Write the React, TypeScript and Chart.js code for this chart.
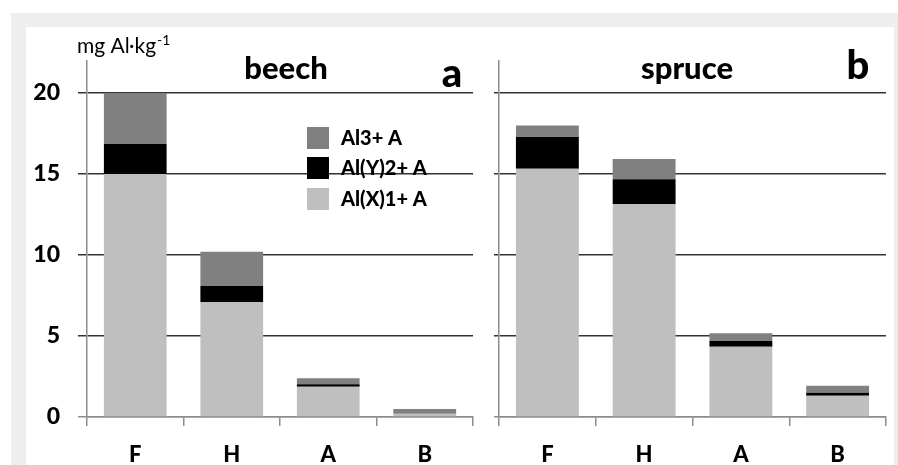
import React, { useEffect, useRef } from 'react';
import { Chart, registerables } from 'chart.js';
Chart.register(...registerables);

const categories = ['F', 'H', 'A', 'B'];
const seriesLabels = ['Al(X)1+ A', 'Al(Y)2+ A', 'Al3+ A'];
const seriesColors = ['#bfbfbf', '#000000', '#808080'];

const beechX = [15.0, 7.08, 1.87, 0.22];
const beechY = [1.85, 1.0, 0.15, 0.02];
const beechAl3 = [3.15, 2.12, 0.37, 0.25];

const spruceX = [15.33, 13.15, 4.34, 1.31];
const spruceY = [1.95, 1.52, 0.35, 0.19];
const spruceAl3 = [0.72, 1.26, 0.48, 0.43];

const yTickValues = [0, 5, 10, 15, 20];
const yMax = 22;

const FONT = 'Lato, "Open Sans", sans-serif';
const BOLD = 900;

type TextItem = { text: string; x: number; y: number; size: number; bold?: boolean; align?: CanvasTextAlign };

const overlayPlugin = {
  id: 'overlay',
  afterDraw(chart: any, _args: any, opts: any) {
    const ctx = chart.ctx as CanvasRenderingContext2D;
    ctx.save();
    ctx.fillStyle = '#000';
    ctx.textBaseline = 'alphabetic';
    (opts.texts || []).forEach((t: TextItem) => {
      ctx.font = `${t.bold ? BOLD + ' ' : ''}${t.size}px ${FONT}`;
      ctx.textAlign = t.align || 'left';
      ctx.fillText(t.text, t.x, t.y);
    });
    if (opts.unit) {
      const u = opts.unit;
      ctx.textAlign = 'left';
      ctx.font = `${u.size}px ${FONT}`;
      ctx.fillText(u.text, u.x, u.y);
      const w = ctx.measureText(u.text).width;
      ctx.font = `${u.supSize}px ${FONT}`;
      ctx.fillText(u.sup, u.x + w + 1, u.y - u.supRaise);
    }
    if (opts.legend) {
      const L = opts.legend;
      const ds = chart.data.datasets.slice().reverse();
      ds.forEach((d: any, i: number) => {
        const top = L.tops[i];
        ctx.fillStyle = d.backgroundColor;
        ctx.fillRect(L.x, top, L.box, L.box);
        ctx.fillStyle = '#000';
        ctx.font = `${BOLD} ${L.size}px ${FONT}`;
        ctx.textAlign = 'left';
        ctx.textBaseline = 'middle';
        ctx.fillText(d.label, L.textX, top + L.box / 2 + 1);
      });
    }
    ctx.restore();
  },
};

function makeConfig(series: number[][], o: any): any {
  return {
    type: 'bar',
    data: {
      labels: categories,
      datasets: series.map((vals, i) => ({
        label: seriesLabels[i],
        data: vals,
        backgroundColor: seriesColors[i],
        borderWidth: 0,
        barPercentage: 0.65,
        categoryPercentage: 1,
      })),
    },
    options: {
      responsive: false,
      animation: false,
      events: [],
      layout: { padding: { top: 60.6, right: o.padRight, left: 0, bottom: 0 } },
      plugins: {
        legend: { display: false },
        tooltip: { enabled: false },
        title: { display: false },
        overlay: o.overlay,
      },
      scales: {
        x: {
          stacked: true,
          afterFit: (s: any) => { s.height = 48; },
          border: { display: true, color: '#8c8c8c', width: 1.5 },
          grid: { offset: true, drawOnChartArea: false, drawTicks: true, tickLength: 9, color: '#8c8c8c', lineWidth: 1.5 },
          ticks: { color: '#000', padding: 16, font: { family: FONT, size: 22, weight: BOLD } },
        },
        y: {
          stacked: true,
          min: 0,
          max: yMax,
          afterBuildTicks: (s: any) => { s.ticks = yTickValues.map((v) => ({ value: v })); },
          afterFit: (s: any) => { s.width = o.yWidth; },
          border: { display: true, color: '#8c8c8c', width: 1.5 },
          grid: {
            drawTicks: true,
            tickLength: o.tickLength,
            color: (c: any) => (c.tick && c.tick.value === 0 ? '#8c8c8c' : '#333333'),
            lineWidth: 1.5,
          },
          ticks: { display: o.showLabels, color: '#000', padding: 18, font: { family: FONT, size: 23, weight: BOLD } },
        },
      },
    },
    plugins: [overlayPlugin],
  };
}

function Panel(props: { left: number; width: number; series: number[][]; o: any }) {
  const ref = useRef<HTMLCanvasElement>(null);
  useEffect(() => {
    if (!ref.current) return;
    const chart = new Chart(ref.current, makeConfig(props.series, props.o));
    return () => chart.destroy();
  }, []);
  return (
    <canvas
      ref={ref}
      width={props.width}
      height={465}
      style={{ position: 'absolute', left: props.left, top: 0, width: props.width, height: 465 }}
    />
  );
}

export default function App() {
  const leftOpts = {
    yWidth: 87,
    padRight: 7,
    tickLength: 9,
    showLabels: true,
    overlay: {
      texts: [
        { text: 'beech', x: 286, y: 79, size: 31, bold: true, align: 'center' },
        { text: 'a', x: 452, y: 87, size: 40, bold: true, align: 'center' },
      ],
      unit: { text: 'mg Al·kg', sup: '-1', x: 77, y: 53, size: 21, supSize: 14, supRaise: 8 },
      legend: { x: 307, tops: [127, 157, 188], box: 22, textX: 341, size: 20 },
    },
  };
  const rightOpts = {
    yWidth: 19,
    padRight: 12,
    tickLength: 5,
    showLabels: false,
    overlay: {
      texts: [
        { text: 'spruce', x: 207, y: 79, size: 31, bold: true, align: 'center' },
        { text: 'b', x: 378, y: 79, size: 40, bold: true, align: 'center' },
      ],
    },
  };
  return (
    <div style={{ position: 'fixed', left: 0, top: 0, width: 898, height: 465, background: '#fff', overflow: 'hidden' }}>
      <div style={{ position: 'absolute', left: 11, top: 13, width: 887, height: 452, background: '#eeeeee' }} />
      <div style={{ position: 'absolute', left: 26, top: 27, width: 868, height: 438, background: '#ffffff' }} />
      <Panel left={0} width={480} series={[beechX, beechY, beechAl3]} o={leftOpts} />
      <Panel left={480} width={418} series={[spruceX, spruceY, spruceAl3]} o={rightOpts} />
    </div>
  );
}
